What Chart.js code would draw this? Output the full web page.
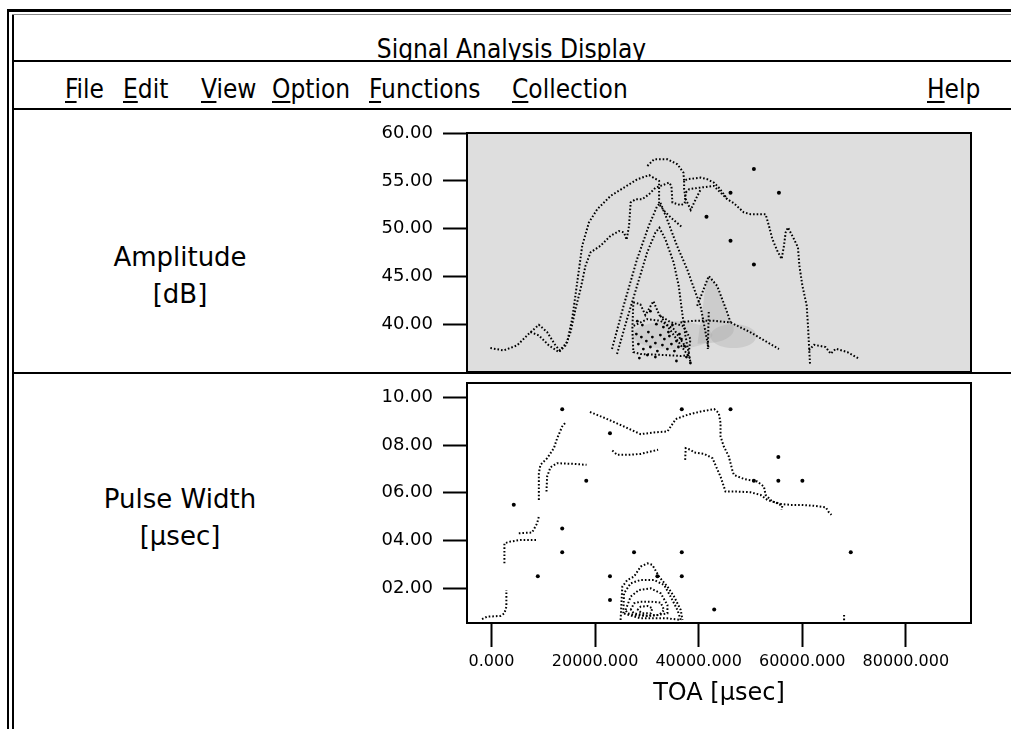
<!DOCTYPE html>
<html>
<head>
<meta charset="utf-8">
<script src="https://cdn.jsdelivr.net/npm/chart.js@4.4.0/dist/chart.umd.min.js"></script>
<style>
  html, body { margin: 0; padding: 0; background: #fff; }
  body { width: 1011px; height: 729px; position: relative; overflow: hidden;
         font-family: "DejaVu Sans", Verdana, sans-serif; color: #000; }
  .ln { position: absolute; background: #000; }
  .cond { font-family: "DejaVu Sans Condensed", "Liberation Sans Narrow", "DejaVu Sans", sans-serif; font-stretch: condensed; }
  #title { position: absolute; left: 12px; width: 999px; top: 14px; height: 47px; overflow: hidden;
           text-align: center; font-size: 26px; }
  #title span { display: block; margin-top: 22px; line-height: 26px; }
  .menu { position: absolute; top: 76px; font-size: 26px; line-height: 26px; white-space: nowrap; }
  .menu u { text-underline-offset: 3px; }
  .side { position: absolute; left: 40px; width: 280px; text-align: center; font-size: 26px; line-height: 37px; }
  canvas { position: absolute; left: 0; }
</style>
</head>
<body>
<div class="ln" style="left:7px; top:9px; width:1004px; height:3px;"></div>
<div class="ln" style="left:7px; top:9px; width:2px; height:720px;"></div>
<div class="ln" style="left:12px; top:14px; width:2px; height:715px;"></div>
<div class="ln" style="left:12px; top:14px; width:999px; height:1px; background:#888;"></div>
<div id="title" class="cond"><span>Signal Analysis Display</span></div>
<div class="ln" style="left:12px; top:60px; width:999px; height:2px;"></div>
<div class="menu cond" style="left:65px;"><u>F</u>ile</div>
<div class="menu cond" style="left:123px;"><u>E</u>dit</div>
<div class="menu cond" style="left:201px;"><u>V</u>iew</div>
<div class="menu cond" style="left:272px;"><u>O</u>ption</div>
<div class="menu cond" style="left:369px;"><u>F</u>unctions</div>
<div class="menu cond" style="left:512px;"><u>C</u>ollection</div>
<div class="menu cond" style="left:927px;"><u>H</u>elp</div>
<div class="ln" style="left:12px; top:108px; width:999px; height:2px;"></div>
<div class="side" style="top:239px;">Amplitude<br>[dB]</div>
<div class="ln" style="left:12px; top:372px; width:999px; height:2px;"></div>
<div class="side" style="top:481px;">Pulse Width<br>[µsec]</div>
<canvas id="amp" width="1011" height="256" style="top:120px;"></canvas>
<canvas id="pw" width="1011" height="354" style="top:375px;"></canvas>
<script>
// tick values
const ampTicks = [40, 45, 50, 55, 60];
const pwTicks = [2, 4, 6, 8, 10];
const toaTicks = [0, 20000, 40000, 60000, 80000];

// ---- Amplitude [dB] vs TOA [usec] ----
const ampOuter = [[-210,37.53],[2380,37.29],[4950,37.81],[7210,39.02],[9150,39.96],[10750,39.2],[12360,37.81],[13200,37.29],[14620,38.16],[15590,40.59],[16560,44.41],[17520,48.22],[18820,50.66],[20430,52.04],[23000,53.43],[25590,54.3],[28160,55.17],[30430,55.59],[32360,55.0],[32360,54.47],[32360,52.56],[33330,51.87],[34600,51.18],[36870,50.13]];
const ampInner = [[7530,39.2],[9150,38.85],[11080,37.81],[13010,37.11],[14300,37.81],[15270,39.2],[16230,41.63],[17200,43.71],[18160,46.14],[19130,47.53],[21060,48.22],[23000,49.27],[24620,49.75],[25590,49.61],[26090,48.85],[26560,50.31],[26870,52.74],[27830,53.09],[29130,53.09],[30430,53.61],[31700,54.3],[32670,54.47],[34290,54.82],[34740,54.47],[34930,52.74],[36540,52.46],[37310,52.67],[37500,53.78],[38160,54.13],[40410,54.3],[42920,54.47],[44220,53.78],[45510,53.09],[46790,52.67],[48720,51.7],[50020,51.52],[52920,51.52],[53560,50.31],[54220,48.92],[55180,47.7],[56020,46.84],[56460,48.22],[56790,49.61],[57240,50.13],[58390,48.92],[59170,48.05],[59440,46.14],[60020,44.06],[60850,41.97],[61100,39.89],[61300,37.81],[61490,35.9]];
const ampTail = [[61300,37.29],[62260,37.88],[64530,37.63],[65490,36.94],[66460,37.46],[68720,37.11],[70970,36.42]];
const ampTop = [[30100,56.56],[31390,57.25],[33970,57.25],[35900,56.73],[37060,55.86],[37190,55.0],[37830,55.17],[40410,55.34],[41640,55.17],[42920,54.82],[43890,54.3],[44860,53.61],[45510,53.09]];
const ampDip = [[37190,55.0],[37190,54.13],[37500,53.09],[38470,51.97],[39440,53.09],[40410,54.13]];
const ampPeakA = [[23270,37.43],[25510,41.94],[28100,46.8],[30350,50.27],[31970,52.35],[32610,52.71],[33910,50.97],[35840,48.19],[37780,45.76],[39380,43.33],[40350,41.94],[41950,37.43]];
const ampPeakB = [[24240,36.91],[26170,40.55],[28100,44.02],[30040,47.5],[31640,49.58],[32420,50.1],[33580,48.89],[35180,46.46],[36150,44.02],[36810,41.25],[37450,38.81],[38410,36.04]];
const ampBump = [[39710,41.94],[41950,45.06],[43580,44.02],[45510,41.25],[46150,40.21]];
const ampBumpStem = [[41950,41.3],[41760,37.43]];
const ampFlat = [[36480,40.21],[39050,40.38],[42920,40.38],[46150,40.21],[50000,39.17],[55490,37.43]];
const ampMesh = [[27390,42.32],[28740,42.11],[29710,40.97],[31260,42.43],[32420,40.97],[34550,40.24],[37060,39.82],[38410,38.47],[38030,36.8],[36480,36.7],[33580,36.8],[28740,36.91],[27390,37.12],[27200,39.52],[27390,42.32]];
const ampMeshArc = [[27450,39.85],[30040,40.55],[32610,40.38],[35180,39.52],[37780,37.43]];
const ampMeshDiag = [[32610,40.9],[38410,36.38]];
const ampMeshDots = [[27970,38.99],[28360,37.95],[28940,38.68],[29320,37.43],[29900,38.26],[30290,39.2],[30680,37.64],[31060,38.68],[31640,38.05],[32030,37.22],[32610,38.89],[33000,37.84],[33380,38.47],[33960,37.43],[34350,38.78],[34740,37.95],[35320,37.22],[35710,38.26],[36090,37.64],[36670,38.47],[37250,37.74],[28160,40.34],[29130,39.93],[30680,41.39],[31840,40.03],[33190,39.72],[34160,39.2],[34930,39.93],[36290,38.99],[30100,36.8],[31640,36.59],[28550,36.49],[37640,36.59],[35710,36.18],[38410,35.97]];
const ampDots = [[41510,51.25],[46150,53.75],[46150,48.75],[50660,56.25],[50660,46.25],[55490,53.75]];
// shaded emitter regions
const ampHaloA = [[42670,38.89],[41660,39.62],[38800,40.16],[34930,40.35],[31060,40.16],[28200,39.62],[27190,38.89],[28200,38.16],[31060,37.62],[34930,37.43],[38800,37.62],[41660,38.16],[42670,38.89]];
const ampHaloB = [[51180,38.78],[50600,39.41],[48960,39.87],[46730,40.03],[44510,39.87],[42860,39.41],[42280,38.78],[42860,38.16],[44510,37.69],[46730,37.53],[48960,37.69],[50600,38.16],[51180,38.78]];
const ampHaloPeak = [[39770,37.97],[40740,41.6],[41900,45.03],[43440,43.99],[45570,41.28],[46730,39.3],[44220,38.26],[39770,37.97]];

// ---- Pulse Width [usec] vs TOA [usec] ----
const pwStepLow = [[-1820,0.7],[-850,0.8],[1720,0.83],[2500,0.94],[2880,1.22],[2880,1.92]];
const pwStepMid = [[2500,3.04],[2500,3.88],[3660,3.95],[5590,4.02],[8950,4.02]];
const pwStepUp = [[5280,4.3],[7850,4.33],[8820,4.72],[9150,5.0]];
const pwRise = [[9150,5.7],[9150,6.82],[9460,7.17],[10750,7.45],[12050,7.87],[12690,8.29],[13660,8.78],[14290,8.95]];
const pwShelf = [[10620,6.05],[10750,6.68],[11390,7.07],[12690,7.24],[15920,7.21],[18360,7.17]];
const pwTop = [[19010,9.39],[22360,9.09],[25590,8.78],[28800,8.46],[31390,8.53],[33970,8.57],[35570,9.09],[37830,9.27],[40410,9.41],[43000,9.51],[43890,9.34],[44220,8.92],[44220,8.36],[44860,7.94],[45820,7.52],[46480,6.96],[46790,6.75],[48720,6.58],[51310,6.47],[52590,6.26],[52920,5.91],[54220,5.63],[55820,5.53],[57760,5.49],[59690,5.49],[62260,5.45],[64530,5.39],[65160,5.17],[65630,5.07]];
const pwMid = [[23330,7.77],[24290,7.59],[26230,7.59],[28800,7.63],[30740,7.73],[32170,7.8]];
const pwRight = [[37390,7.38],[37500,7.87],[38470,7.8],[39130,7.69],[41060,7.63],[42670,7.45],[43500,7.03],[44220,6.68],[44860,6.26],[45180,6.05],[47450,6.05],[50020,6.02],[51950,5.91],[53250,5.7],[55180,5.56],[56150,5.45],[56000,5.28]];
const pwRing1 = [[24930,0.66],[25260,2.06],[26230,2.34],[27520,2.48],[28800,2.9],[30100,3.04],[31060,2.97],[32360,2.48],[33970,2.06],[35260,1.64],[36540,1.08],[36870,0.66]];
const pwRing2 = [[25450,0.94],[25590,1.78],[26870,2.2],[28800,2.34],[31390,2.34],[33330,2.13],[34600,1.64],[35900,1.08],[36540,0.66],[33970,0.73],[28800,0.73],[25450,0.94]];
const pwRing3 = [[25900,1.08],[26870,1.64],[28490,1.92],[30740,1.99],[32670,1.78],[33970,1.29],[33970,0.94],[32030,0.87],[28800,0.83],[26230,0.94],[25900,1.08]];
const pwRing4 = [[26870,1.08],[27520,1.36],[28800,1.43],[30740,1.43],[32670,1.39],[33330,1.08],[32360,0.87],[30100,0.83],[27520,0.94],[26870,1.08]];
const pwRing5 = [[28160,1.08],[28800,1.22],[30100,1.25],[31060,1.15],[30740,0.94],[29130,0.94],[28160,1.08]];
const pwStub = [[68070,0.87],[68070,0.6]];
const pwDots = [[13660,9.5],[36740,9.5],[46150,9.5],[22880,8.5],[55380,7.5],[18300,6.5],[50660,6.5],[55380,6.5],[60020,6.5],[4310,5.5],[13660,4.5],[13660,3.5],[27520,3.5],[36740,3.5],[69360,3.5],[8950,2.5],[22880,2.5],[32030,2.5],[36740,2.5],[22880,1.5],[43000,1.1]];

Chart.defaults.font.family = '"DejaVu Sans", Verdana, sans-serif';
Chart.defaults.color = '#000';

const dotted = (data) => ({ data, borderColor: '#000', borderWidth: 2, borderDash: [1.6, 2],
  pointRadius: 0, fill: false, tension: 0 });
const dots = (data, r) => ({ data, showLine: false, pointRadius: r, pointStyle: 'circle',
  pointBackgroundColor: '#000', pointBorderWidth: 0 });
const shade = (data, c) => ({ data, borderWidth: 0, borderColor: 'rgba(0,0,0,0)', backgroundColor: c,
  pointRadius: 0, fill: 'shape', tension: 0.35 });

const boxPlugin = {
  id: 'boxPlugin',
  beforeDraw(chart, args, opts) {
    const a = chart.chartArea, ctx = chart.ctx;
    if (opts.bg) { ctx.save(); ctx.fillStyle = opts.bg; ctx.fillRect(a.left, a.top, a.width, a.height); ctx.restore(); }
  },
  afterDraw(chart) {
    const a = chart.chartArea, ctx = chart.ctx;
    ctx.save(); ctx.strokeStyle = '#000'; ctx.lineWidth = 2;
    ctx.strokeRect(a.left, a.top, a.width, a.height); ctx.restore();
  }
};

function yAxis(min, max, ticks, fmt) {
  return {
    type: 'linear', min, max,
    afterFit: (s) => { s.width = 467; s.paddingTop = 0; s.paddingBottom = 0; },
    afterBuildTicks: (s) => { s.ticks = ticks.map(v => ({ value: v })); },
    grid: { drawOnChartArea: false, drawTicks: true, tickLength: 24, tickWidth: 2, tickColor: '#000' },
    border: { display: true, color: '#000', width: 2 },
    ticks: { padding: 10, font: { size: 18 }, color: '#000', callback: fmt }
  };
}
const toaMin = -4720, toaMax = 92570;

new Chart(document.getElementById('amp'), {
  type: 'line',
  data: { datasets: [
    dots(ampDots, 2), dots(ampMeshDots, 1.4),
    dotted(ampOuter), dotted(ampInner), dotted(ampTail), dotted(ampTop), dotted(ampDip),
    dotted(ampPeakA), dotted(ampPeakB), dotted(ampBump), dotted(ampBumpStem), dotted(ampFlat),
    dotted(ampMesh), dotted(ampMeshArc), dotted(ampMeshDiag),
    shade(ampHaloPeak, 'rgba(150,150,150,0.25)'),
    shade(ampHaloB, 'rgba(150,150,150,0.25)'),
    shade(ampHaloA, 'rgba(150,150,150,0.2)')
  ] },
  options: {
    responsive: false, animation: false,
    layout: { padding: { top: 13, bottom: 3, left: 0, right: 40 } },
    plugins: { legend: { display: false }, tooltip: { enabled: false }, boxPlugin: { bg: '#dedede' } },
    scales: {
      x: { type: 'linear', min: toaMin, max: toaMax, display: false },
      y: yAxis(35.03, 60, ampTicks, (v) => v.toFixed(2))
    }
  },
  plugins: [boxPlugin]
});

new Chart(document.getElementById('pw'), {
  type: 'line',
  data: { datasets: [
    dots(pwDots, 2),
    dotted(pwStepLow), dotted(pwStepMid), dotted(pwStepUp), dotted(pwRise), dotted(pwShelf),
    dotted(pwTop), dotted(pwMid), dotted(pwRight),
    dotted(pwRing1), dotted(pwRing2), dotted(pwRing3), dotted(pwRing4), dotted(pwRing5), dotted(pwStub)
  ] },
  options: {
    responsive: false, animation: false,
    layout: { padding: { top: 8, bottom: 0, left: 0, right: 40 } },
    plugins: { legend: { display: false }, tooltip: { enabled: false }, boxPlugin: {} },
    scales: {
      x: {
        type: 'linear', min: toaMin, max: toaMax,
        afterFit: (s) => { s.height = 106; },
        afterBuildTicks: (s) => { s.ticks = toaTicks.map(v => ({ value: v })); },
        grid: { drawOnChartArea: false, drawTicks: true, tickLength: 24, tickWidth: 2, tickColor: '#000' },
        border: { display: true, color: '#000', width: 2 },
        ticks: { padding: 5, font: { size: 16 }, color: '#000', maxRotation: 0, autoSkip: false,
                 callback: (v) => v.toFixed(3) },
        title: { display: true, text: 'TOA [µsec]', font: { size: 24 }, color: '#000', padding: { top: 4, bottom: 21 } }
      },
      y: yAxis(0.534, 10.605, pwTicks, (v) => v.toFixed(2).padStart(5, '0'))
    }
  },
  plugins: [boxPlugin]
});
</script>
</body>
</html>
